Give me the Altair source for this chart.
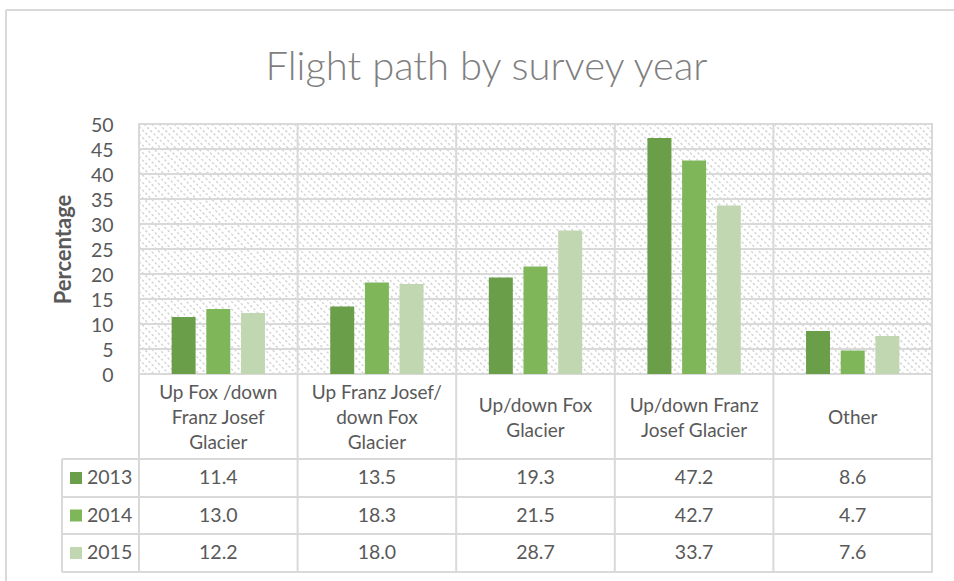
import altair as alt
import numpy as np
import pandas as pd

# ---- chart content -------------------------------------------------------
TITLE = "Flight path by survey year"
Y_TITLE = "Percentage"
CATEGORIES = [
    "Up Fox /down Franz Josef Glacier",
    "Up Franz Josef/ down Fox Glacier",
    "Up/down Fox Glacier",
    "Up/down Franz Josef Glacier",
    "Other",
]
CATEGORY_LINES = [
    ["Up Fox /down", "Franz Josef", "Glacier"],
    ["Up Franz Josef/", "down Fox", "Glacier"],
    ["Up/down Fox", "Glacier"],
    ["Up/down Franz", "Josef Glacier"],
    ["Other"],
]
YEARS = ["2013", "2014", "2015"]
VALUES_2013 = [11.4, 13.5, 19.3, 47.2, 8.6]
VALUES_2014 = [13.0, 18.3, 21.5, 42.7, 4.7]
VALUES_2015 = [12.2, 18.0, 28.7, 33.7, 7.6]
Y_TICKS = [0, 5, 10, 15, 20, 25, 30, 35, 40, 45, 50]

# ---- styling -------------------------------------------------------------
YEAR_COLORS = ["#6a9e48", "#80b65a", "#c0d7b2"]
TEXT_COLOR = "#595959"
TITLE_COLOR = "#7f7f7f"
LINE_COLOR = "#d9d9d9"
HATCH_COLOR = "#d6d6d6"
FONT = "Lato"

# ---- page layout (pixels) -------------------------------------------------
PAGE_W, PAGE_H = 954, 581
LEFT, TOP, RIGHT, BOTTOM = 139, 124, 932, 572
ZERO = 374                      # pixel row of the 0 % line
PLOT_W = RIGHT - LEFT
PLOT_H = BOTTOM - TOP
UNIT = (ZERO - TOP) / 50.0      # pixels per percentage point
TABLE_LEFT = 62
HEADER_MID = 418
LINE_H = 25
ROW_LINES = [459, 497, 534, 572]
ROW_MIDS = [478, 515.5, 553]
FRAME_X, FRAME_Y = 6, 10
HATCH_STEP = 7.5


def yv(py):
    """page pixel row -> value on the percentage scale"""
    return (ZERO - py) / UNIT


def xp(px):
    """page pixel column -> plot pixel column"""
    return px - LEFT


Y_MIN, Y_MAX = yv(BOTTOM), 50.0

yscale = alt.Scale(domain=[Y_MIN, Y_MAX], nice=False, zero=False)
pxscale = alt.Scale(domain=[0, PLOT_W], nice=False, zero=False)
band = alt.Scale(type="band", paddingInner=0, paddingOuter=0)
colors = alt.Scale(domain=YEARS, range=YEAR_COLORS)

# one shared left axis: every layer carries the same definition so they merge
yaxis = alt.Axis(
    values=Y_TICKS,
    grid=False,
    domain=False,
    ticks=False,
    labelFontSize=19.5,
    labelColor=TEXT_COLOR,
    labelPadding=26,
    labelOffset=1.5,
    title=Y_TITLE,
    titleFontSize=22,
    titleFontWeight="bold",
    titleColor=TEXT_COLOR,
    titleAngle=270,
    titleAlign="center",
    titleBaseline="middle",
    titleX=xp(63),
    titleY=ZERO - TOP - 125,
)

# ---- data frames -----------------------------------------------------------
series = [VALUES_2013, VALUES_2014, VALUES_2015]
bars_df = pd.DataFrame(
    [
        {"cat": c, "year": y, "value": v, "row": i}
        for i, (y, vals) in enumerate(zip(YEARS, series))
        for c, v in zip(CATEGORIES, vals)
    ]
)
bars_df["base"] = 0.0
bars_df["row_y"] = [yv(ROW_MIDS[r]) for r in bars_df["row"]]
bars_df["label"] = [f"{v:.1f}" for v in bars_df["value"]]

# wrapped header labels, each block centred on the header row
header_df = pd.DataFrame(
    {
        "cat": CATEGORIES,
        "label": ["\n".join(l) for l in CATEGORY_LINES],
        "y": [yv(HEADER_MID - (len(l) - 1) * LINE_H / 2) for l in CATEGORY_LINES],
    }
)

years_df = pd.DataFrame(
    {
        "year": YEARS,
        "y": [yv(m) for m in ROW_MIDS],
        "sx": xp(76),
        "tx": xp(87),
    }
)

# diagonal hatch of the plotting area, clipped to its rectangle
hatch_h = ZERO - TOP
segs = []
for c in np.arange(-hatch_h, PLOT_W, HATCH_STEP):
    t0 = max(0.0, -c)
    t1 = min(float(hatch_h), PLOT_W - c)
    if t1 > t0:
        segs.append(
            {"x": c + t0, "x2": c + t1, "y": Y_MAX - t0 / UNIT, "y2": Y_MAX - t1 / UNIT}
        )
hatch_df = pd.DataFrame(segs)

grid_df = pd.DataFrame({"v": Y_TICKS, "x": 0, "x2": PLOT_W})

hlines_df = pd.DataFrame(
    {"y": [yv(r) for r in ROW_LINES], "x": xp(TABLE_LEFT), "x2": PLOT_W}
)
misc_lines_df = pd.DataFrame(
    [
        # left edge of the legend column
        {"x": xp(TABLE_LEFT), "x2": xp(TABLE_LEFT), "y": yv(ROW_LINES[0]), "y2": yv(BOTTOM)},
        # outer chart frame
        {"x": xp(FRAME_X), "x2": xp(FRAME_X), "y": yv(FRAME_Y), "y2": yv(PAGE_H)},
        {"x": xp(FRAME_X), "x2": xp(PAGE_W), "y": yv(FRAME_Y), "y2": yv(FRAME_Y)},
    ]
)
cats_df = pd.DataFrame({"cat": CATEGORIES, "y": Y_MAX, "y2": Y_MIN})
title_df = pd.DataFrame({"t": [TITLE], "x": [xp(486.5)], "y": [yv(80)]})


def px_x(field="x"):
    return alt.X(f"{field}:Q", scale=pxscale, axis=None)


def val_y(field="y"):
    return alt.Y(f"{field}:Q", scale=yscale, axis=yaxis)


def cat_x(pos):
    return alt.X("cat:N", sort=CATEGORIES, scale=band, bandPosition=pos, axis=None)


# ---- layers ----------------------------------------------------------------
hatch = alt.Chart(hatch_df).mark_rule(
    color=HATCH_COLOR, strokeWidth=1.5, strokeDash=[2.5, 2]
).encode(x=px_x(), x2="x2:Q", y=val_y(), y2="y2:Q")

grid = alt.Chart(grid_df).mark_rule(color=LINE_COLOR, strokeWidth=2).encode(
    x=px_x(), x2="x2:Q", y=val_y("v")
)

vlines = alt.Chart(cats_df).mark_rule(color=LINE_COLOR, strokeWidth=2).encode(
    x=cat_x(0), y=val_y(), y2="y2:Q"
)

hlines = alt.Chart(hlines_df).mark_rule(color=LINE_COLOR, strokeWidth=2).encode(
    x=px_x(), x2="x2:Q", y=val_y()
)

misc_lines = alt.Chart(misc_lines_df).mark_rule(color=LINE_COLOR, strokeWidth=2).encode(
    x=px_x(), x2="x2:Q", y=val_y(), y2="y2:Q"
)

bars = alt.Chart(bars_df).mark_bar().encode(
    x=alt.X("cat:N", sort=CATEGORIES, scale=band, axis=None),
    xOffset=alt.XOffset(
        "year:N", sort=YEARS, scale=alt.Scale(paddingInner=0.308, paddingOuter=0.941)
    ),
    y=val_y("value"),
    y2="base:Q",
    color=alt.Color("year:N", scale=colors, legend=None),
)

header = alt.Chart(header_df).mark_text(
    lineBreak="\n", lineHeight=LINE_H, fontSize=19, color=TEXT_COLOR, baseline="middle"
).encode(x=cat_x(0.5), y=val_y(), text="label:N")

cells = alt.Chart(bars_df).mark_text(
    fontSize=19.5, color=TEXT_COLOR, baseline="middle"
).encode(x=cat_x(0.5), y=val_y("row_y"), text="label:N")

keys = alt.Chart(years_df).mark_square(size=144, opacity=1).encode(
    x=px_x("sx"),
    y=val_y(),
    color=alt.Color("year:N", scale=colors, legend=None),
)

key_labels = alt.Chart(years_df).mark_text(
    fontSize=19.5, color=TEXT_COLOR, align="left", baseline="middle"
).encode(x=px_x("tx"), y=val_y(), text="year:N")

title = alt.Chart(title_df).mark_text(
    fontSize=40, fontWeight=300, color=TITLE_COLOR, align="center", baseline="alphabetic"
).encode(x=px_x(), y=val_y(), text="t:N")

chart = (
    alt.layer(
        hatch, grid, vlines, hlines, misc_lines, bars, header, cells, keys, key_labels, title
    )
    .resolve_scale(x="independent", xOffset="independent")
    .properties(
        width=PLOT_W,
        height=PLOT_H,
        autosize="none",
        padding={"left": LEFT, "top": TOP, "right": PAGE_W - RIGHT, "bottom": PAGE_H - BOTTOM},
        background="white",
    )
    .configure(font=FONT)
    .configure_view(stroke=LINE_COLOR, strokeWidth=2)
)

chart.save("out.html", embed_options={"renderer": "svg", "actions": False})
